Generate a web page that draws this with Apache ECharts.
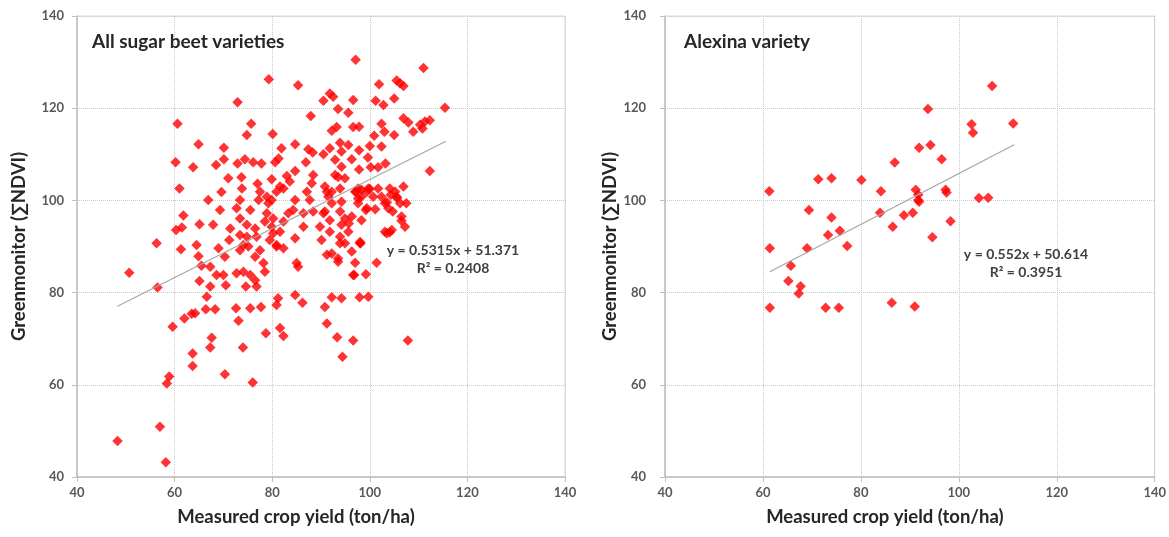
<!DOCTYPE html>
<html>
<head>
<meta charset="utf-8">
<script src="https://cdn.jsdelivr.net/npm/echarts@6/dist/echarts.min.js"></script>
<style>
html,body{margin:0;padding:0;background:#fff;}
#chart{width:1169px;height:537px;}
</style>
</head>
<body>
<div id="chart"></div>
<script>
// ---- Data ----
const panelTitles = ['All sugar beet varieties', 'Alexina variety'];
const xAxisName = 'Measured crop yield (ton/ha)';
const yAxisName = 'Greenmonitor (\u2211NDVI)';

const allPoints = [
[48.3,47.8],[57.0,50.9],[58.2,43.2],[58.4,60.3],[58.9,61.8],[59.6,72.6],[56.5,81.1],[50.7,84.3],[56.3,90.7],[61.3,89.4],
[64.5,90.3],[64.9,87.9],[69.0,89.6],[70.3,87.8],[65.5,85.8],[67.3,85.6],[65.1,82.5],[67.3,81.3],[66.6,79.1],[68.6,83.8],
[70.0,83.8],[70.5,81.6],[72.7,84.2],[74.1,84.5],[75.5,83.8],[76.5,82.7],[74.6,81.3],[76.8,81.3],[76.5,87.8],[78.2,86.4],
[78.5,84.5],[77.5,89.2],[80.9,90.3],[85.0,86.4],[85.3,85.6],[91.2,88.2],[84.7,79.5],[86.2,77.8],[81.2,78.8],[80.9,77.3],
[77.7,76.9],[75.5,76.6],[72.6,76.6],[68.3,76.4],[66.4,76.4],[64.2,75.5],[63.5,75.4],[62.0,74.4],[73.1,73.9],[78.7,71.2],
[81.6,72.3],[82.3,70.6],[90.8,76.9],[91.2,73.3],[67.6,70.2],[67.3,68.1],[74.0,68.1],[63.7,66.8],[63.7,64.1],[70.3,62.3],
[76.0,60.5],
[92.2,88.5],[93.9,90.7],[96.3,88.9],[93.5,86.7],[97.0,86.5],[101.4,86.5],[96.6,83.8],[99.2,84.0],[98.1,90.7],[92.2,79.0],
[94.2,78.8],[97.9,79.0],[99.7,79.1],[93.3,70.3],[96.6,69.6],[94.4,66.1],[107.8,69.6],
[79.3,126.3],[85.3,125.0],[72.9,121.3],[91.8,123.2],[92.5,122.5],[90.5,121.6],[60.6,116.6],[75.7,116.6],[74.8,114.2],[80.1,114.4],
[87.9,118.3],[92.2,115.1],[93.2,115.9],[64.9,112.2],[70.1,111.4],[70.1,108.9],[60.2,108.3],[63.8,107.2],[68.5,107.7],[72.9,108.0],
[74.4,108.9],[76.1,108.3],[77.8,108.0],[80.6,108.3],[81.3,109.1],[81.9,111.3],[84.7,112.2],[87.4,111.1],[88.3,110.4],[86.9,108.3],
[90.5,110.0],[91.8,111.3],[92.9,108.8],[71.0,104.8],[73.7,105.0],[77.0,103.6],[79.9,104.6],[83.0,105.3],[84.7,106.4],[83.6,104.1],
[88.4,105.5],[88.1,103.7],[90.8,103.0],[92.9,105.5],[61.0,102.6],[81.6,103.0],
[97.1,130.5],[111.0,128.7],[101.9,125.2],[105.5,126.0],[106.2,125.4],[106.9,124.8],[96.6,121.8],[101.2,121.6],[102.8,120.7],[105.0,122.1],
[93.5,119.8],[95.6,119.0],[115.4,120.1],[106.9,117.8],[107.9,116.9],[110.3,116.4],[111.3,117.1],[112.3,117.4],[110.8,115.6],[108.9,114.9],
[102.4,116.6],[103.0,114.9],[96.6,115.9],[97.8,116.0],[105.0,114.2],[100.9,114.0],[93.9,112.5],[95.6,112.0],[100.0,111.8],[102.4,111.7],
[97.8,110.9],[94.2,110.6],[96.3,108.9],[99.6,109.3],[94.2,107.3],[97.8,106.7],[100.2,107.2],[101.7,107.2],[103.2,108.0],[112.3,106.4],
[93.5,105.1],[94.9,104.8],[97.6,102.6],[99.7,102.6],[101.7,102.6],[104.1,102.6],[106.9,103.0],
[69.6,101.8],[73.8,102.6],[66.9,100.1],[69.3,97.9],[72.7,98.3],[75.5,97.9],[73.4,100.1],[77.2,100.1],[78.9,100.8],[79.2,99.4],
[80.9,101.9],[82.3,102.6],[84.7,100.1],[87.1,101.9],[87.7,100.1],[91.2,101.9],[92.2,99.4],[61.8,96.7],[60.3,93.6],[61.5,94.1],
[65.1,94.8],[67.9,94.7],[71.4,93.9],[71.2,91.4],[73.4,96.1],[74.8,94.7],[73.4,92.5],[74.8,92.1],[76.5,93.9],[76.8,92.1],
[74.1,90.3],[75.1,90.0],[80.2,96.1],[78.9,97.2],[79.9,94.3],[83.3,97.2],[84.3,97.9],[86.4,97.2],[88.4,97.6],[90.5,97.2],
[89.8,94.3],[86.4,94.3],[84.7,91.8],[90.1,91.4],[79.5,91.4],[80.9,90.0],[82.3,89.6],[77.5,101.9],[79.9,100.1],[78.5,95.4],
[81.6,93.2],[73.4,89.2],[82.3,95.4],[80.2,92.9],
[93.9,102.6],[97.0,101.9],[98.3,102.3],[100.0,102.5],[97.6,100.4],[99.4,98.3],[101.1,98.1],[103.5,99.6],[103.8,98.3],[105.5,100.8],
[106.2,99.4],[107.5,99.4],[106.5,96.5],[93.9,97.6],[94.9,96.1],[94.2,94.7],[95.7,95.0],[95.6,93.2],[98.3,95.7],[103.1,93.2],
[104.1,93.1],[98.0,91.0],[93.5,87.4],[96.8,83.8],
[104.3,101.2],[105.6,100.5],[105.2,101.9],[103.1,99.4],[104.7,97.6],[102.4,100.8],[100.7,100.8],[99.4,101.9],[98.3,100.8],[97.2,101.9],
[97.6,99.4],[99.2,97.9],[94.2,99.7],[92.2,101.9],[91.5,100.8],[90.8,97.6],[91.8,95.7],[96.3,96.5],[106.5,95.6],[107.2,94.3],
[103.5,92.9],[104.5,93.6],[98.0,90.7],[93.9,92.1],[94.9,90.7],[91.8,93.2]
];

const alexinaPoints = [
[61.3,102.0],[71.3,104.6],[74.0,104.8],[80.1,104.4],[84.1,102.0],[86.9,108.2],[69.4,97.9],[74.0,96.3],[75.7,93.4],[73.3,92.5],
[83.9,97.3],[86.5,94.3],[77.2,90.1],[61.4,89.6],[69.0,89.6],[106.8,124.8],[93.7,119.8],[111.1,116.7],[102.6,116.5],[102.9,114.7],
[91.9,111.4],[94.2,112.0],[96.5,108.9],[91.2,102.3],[91.7,101.2],[91.7,100.1],[91.9,99.7],[97.3,102.3],[97.5,101.7],[104.1,100.5],
[106.0,100.6],[88.8,96.8],[90.6,97.3],[98.3,95.5],[94.6,92.0],[65.7,85.8],[65.2,82.5],[67.7,81.4],[67.3,79.8],[61.4,76.7],
[72.8,76.7],[75.5,76.7],[86.3,77.8],[91.0,77.0]
];

// trend lines: slope, intercept, x range (as printed on the chart)
const trendAll = {slope: 0.5315, intercept: 51.371, x0: 48.3, x1: 115.6};
const trendAlexina = {slope: 0.552, intercept: 50.614, x0: 61.4, x1: 111.3};
const eqTexts = [['y = 0.5315x + 51.371', 'R\u00b2 = 0.2408'], ['y = 0.552x + 50.614', 'R\u00b2 = 0.3951']];

const axisMin = 40, axisMax = 140, axisStep = 20;

// ---- Chart ----
const FONT = 'Lato, "Open Sans", sans-serif';
const chart = echarts.init(document.getElementById('chart'), null, {renderer: 'canvas'});

function trendData(t) {
  return [[t.x0, t.slope * t.x0 + t.intercept], [t.x1, t.slope * t.x1 + t.intercept]];
}

const grids = [
  {left: 77, width: 488, top: 16, height: 461, show: true, borderColor: '#d9d9d9', borderWidth: 1, backgroundColor: 'transparent'},
  {left: 665, width: 490, top: 16, height: 461, show: true, borderColor: '#d9d9d9', borderWidth: 1, backgroundColor: 'transparent'}
];

function xAx(i) {
  return {
    gridIndex: i, type: 'value', min: axisMin, max: axisMax, interval: axisStep,
    name: xAxisName, nameLocation: 'middle', nameGap: 31,
    nameTextStyle: {fontFamily: FONT, fontSize: 18.5, fontWeight: 'bold', color: '#262626', padding: [0, 50, 0, 0]},
    axisLine: {show: true, onZero: false, lineStyle: {color: '#bfbfbf', width: 1.5}},
    axisTick: {show: true, length: 5, lineStyle: {color: '#bfbfbf'}},
    splitLine: {show: true, lineStyle: {type: 'dotted', color: '#c8c8c8', width: 1}},
    axisLabel: {fontFamily: FONT, fontSize: 13, fontWeight: 'bold', color: '#595959', margin: 9}
  };
}
function yAx(i) {
  return {
    gridIndex: i, type: 'value', min: axisMin, max: axisMax, interval: axisStep,
    name: yAxisName, nameLocation: 'middle', nameGap: i === 0 ? 48 : 44,
    nameTextStyle: {fontFamily: FONT, fontSize: 18.5, fontWeight: 'bold', color: '#262626'},
    axisLine: {show: true, onZero: false, lineStyle: {color: '#bfbfbf', width: 1.5}},
    axisTick: {show: true, length: 5, lineStyle: {color: '#bfbfbf'}},
    splitLine: {show: true, lineStyle: {type: 'dotted', color: '#c8c8c8', width: 1}},
    axisLabel: {fontFamily: FONT, fontSize: 13, fontWeight: 'bold', color: '#595959', margin: i === 0 ? 13 : 19}
  };
}

const scatterStyle = {color: '#ff0000'};

const option = {
  animation: false,
  backgroundColor: '#ffffff',
  title: [
    {text: panelTitles[0], left: 87, top: 27, textStyle: {fontFamily: FONT, fontSize: 19, fontWeight: 'bold', color: '#262626'}},
    {text: panelTitles[1], left: 679, top: 27, textStyle: {fontFamily: FONT, fontSize: 19, fontWeight: 'bold', color: '#262626'}}
  ],
  grid: grids,
  xAxis: [xAx(0), xAx(1)],
  yAxis: [yAx(0), yAx(1)],
  series: [
    {type: 'scatter', xAxisIndex: 0, yAxisIndex: 0, data: allPoints, symbol: 'diamond', symbolSize: 10.5, itemStyle: scatterStyle, z: 2},
    {type: 'line', xAxisIndex: 0, yAxisIndex: 0, data: trendData(trendAll), symbol: 'none', lineStyle: {color: '#a6a6a6', width: 1.2}, z: 3, silent: true},
    {type: 'scatter', xAxisIndex: 1, yAxisIndex: 1, data: alexinaPoints, symbol: 'diamond', symbolSize: 10.5, itemStyle: scatterStyle, z: 2},
    {type: 'line', xAxisIndex: 1, yAxisIndex: 1, data: trendData(trendAlexina), symbol: 'none', lineStyle: {color: '#a6a6a6', width: 1.2}, z: 3, silent: true}
  ],
  graphic: [
    {type: 'text', x: 453, y: 250, style: {text: eqTexts[0][0], fontFamily: FONT, fontSize: 14, fontWeight: 'bold', fill: '#404040', align: 'center', verticalAlign: 'middle'}, z: 10},
    {type: 'text', x: 453, y: 268, style: {text: eqTexts[0][1], fontFamily: FONT, fontSize: 14, fontWeight: 'bold', fill: '#404040', align: 'center', verticalAlign: 'middle'}, z: 10},
    {type: 'text', x: 1026, y: 254, style: {text: eqTexts[1][0], fontFamily: FONT, fontSize: 14, fontWeight: 'bold', fill: '#404040', align: 'center', verticalAlign: 'middle'}, z: 10},
    {type: 'text', x: 1026, y: 272, style: {text: eqTexts[1][1], fontFamily: FONT, fontSize: 14, fontWeight: 'bold', fill: '#404040', align: 'center', verticalAlign: 'middle'}, z: 10}
  ]
};
chart.setOption(option);
</script>
</body>
</html>
